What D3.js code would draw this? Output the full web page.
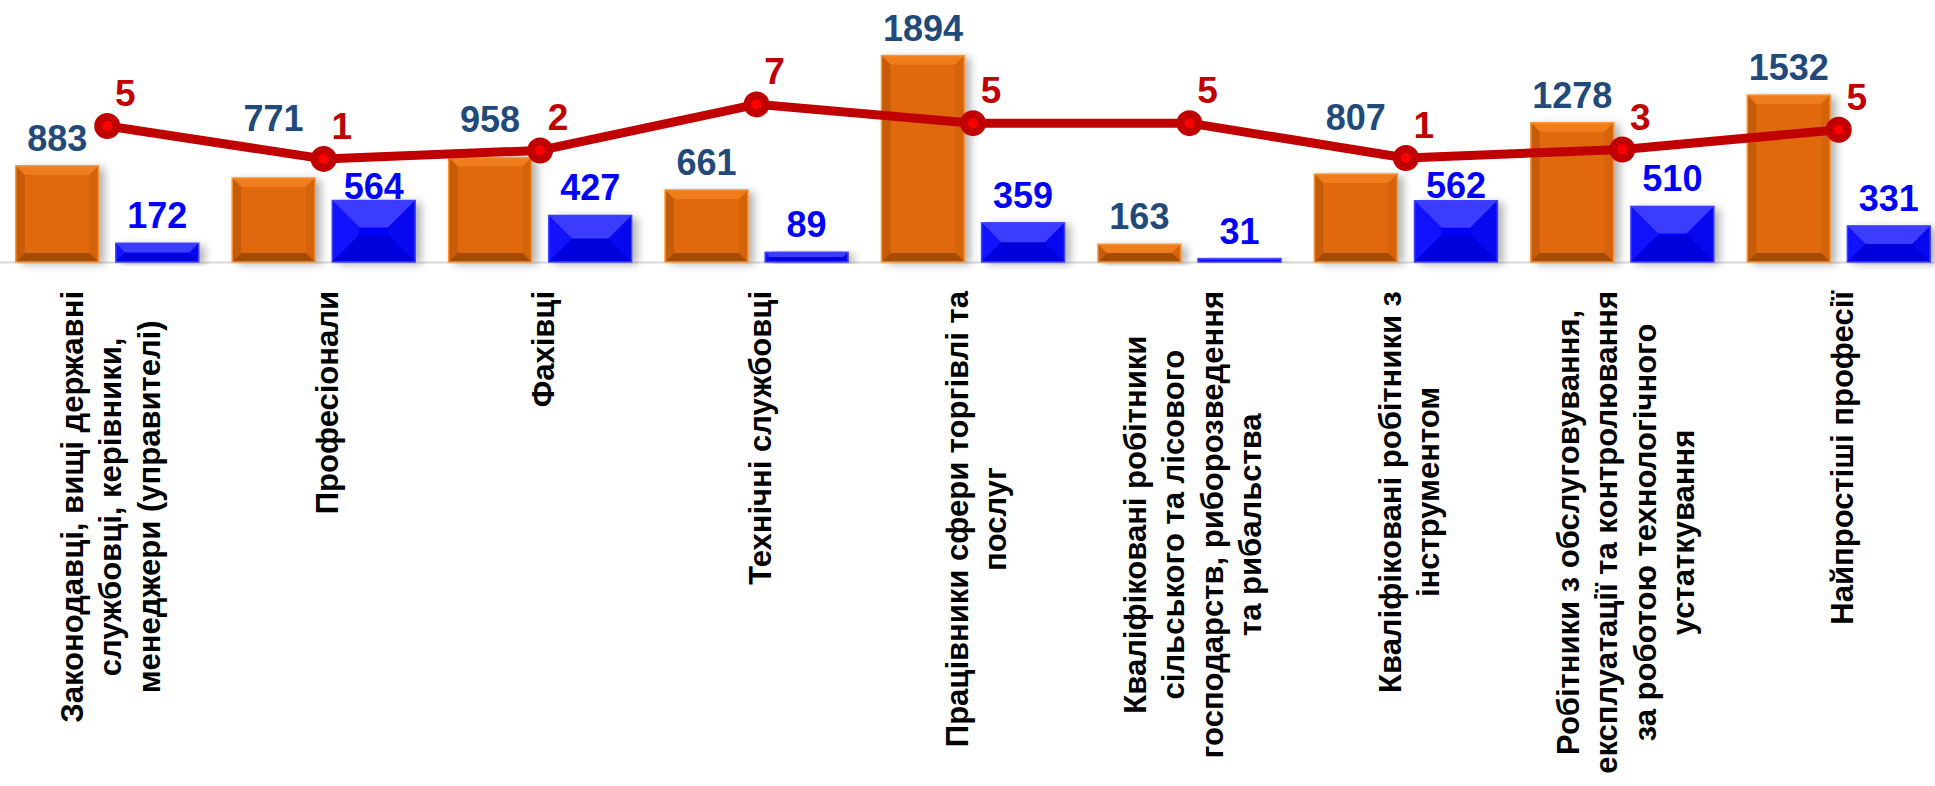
<!DOCTYPE html>
<html>
<head>
<meta charset="utf-8">
<script src="https://cdn.jsdelivr.net/npm/d3@7"></script>
<style>
  body { margin: 0; background: #fff; overflow: hidden; }
  svg { display: block; font-family: "Liberation Sans", Arial, sans-serif; font-weight: bold; }
</style>
</head>
<body>
<div id="chart"></div>
<script>
// category labels, one entry per line of the wrapped label
const categories = [
  ["Законодавці, вищі державні", "службовці, керівники,", "менеджери (управителі)"],
  ["Професіонали"],
  ["Фахівці"],
  ["Технічні службовці"],
  ["Працівники сфери торгівлі та", "послуг"],
  ["Кваліфіковані робітники", "сільського та лісового", "господарств, риборозведення", "та рибальства"],
  ["Кваліфіковані робітники з", "інструментом"],
  ["Робітники з обслуговування,", "експлуатації та контролювання", "за роботою технологічного", "устаткування"],
  ["Найпростіші професії"],
];
const orangeValues = [883, 771, 958, 661, 1894, 163, 807, 1278, 1532];
const blueValues = [172, 564, 427, 89, 359, 31, 562, 510, 331];
const lineValues = [5.0, 1.5, 2.4, 7.3, 5.3, 5.3, 1.6, 2.5, 4.6];
const lineLabels = ["5", "1", "2", "7", "5", "5", "1", "3", "5"];

class ComboChart {
  constructor(_config) {
    this.config = {
      parentElement: _config.parentElement,
      containerWidth: 1935,
      containerHeight: 786,
      baseline: 262,
      labelTop: 291,
      lineStep: 38.5,
      labelGap: 15,
    };
    this.initVis();
  }

  initVis() {
    let vis = this;

    vis.svg = d3
      .select(vis.config.parentElement)
      .append("svg")
      .attr("width", vis.config.containerWidth)
      .attr("height", vis.config.containerHeight);

    const defs = vis.svg.append("defs");
    defs
      .append("filter")
      .attr("id", "shadow")
      .attr("x", "-20%")
      .attr("y", "-20%")
      .attr("width", "150%")
      .attr("height", "140%")
      .append("feDropShadow")
      .attr("dx", 6)
      .attr("dy", 2)
      .attr("stdDeviation", 4)
      .attr("flood-color", "#000")
      .attr("flood-opacity", 0.3);

    vis.xScale = d3
      .scaleBand()
      .domain(d3.range(categories.length))
      .range([-1, 1947]);
    vis.xInner = d3
      .scaleBand()
      .domain(["orange", "blue"])
      .range([0, vis.xScale.bandwidth()])
      .paddingInner(0.172)
      .paddingOuter(0.167);
    vis.yScale = d3.scaleLinear().domain([0, 2000]).range([vis.config.baseline, 44]);
    vis.yLine = d3.scaleLinear().domain([0, 10]).range([173, 79]);

    vis.chart = vis.svg.append("g");
    vis.updateVis();
  }

  updateVis() {
    let vis = this;
    vis.data = categories.map((c, i) => ({
      i,
      lines: c,
      orange: orangeValues[i],
      blue: blueValues[i],
      line: lineValues[i],
      lineLabel: lineLabels[i],
    }));
    vis.renderVis();
  }

  // draws one bar with a simple bevel, like the office chart style
  drawBar(g, x, y, w, h, c, depth) {
    const b = Math.min(depth, h / 2, w / 2);
    const bar = g.append("g");
    bar
      .append("rect")
      .attr("x", x)
      .attr("y", y)
      .attr("width", w)
      .attr("height", h)
      .attr("fill", c.face)
      .attr("filter", "url(#shadow)");
    const quad = (pts, fill) =>
      bar.append("polygon").attr("points", pts.map((p) => p.join(",")).join(" ")).attr("fill", fill);
    quad([[x, y], [x + w, y], [x + w - b, y + b], [x + b, y + b]], c.top);
    quad([[x, y], [x + b, y + b], [x + b, y + h - b], [x, y + h]], c.left);
    quad([[x + w, y], [x + w, y + h], [x + w - b, y + h - b], [x + w - b, y + b]], c.right);
    quad([[x, y + h], [x + b, y + h - b], [x + w - b, y + h - b], [x + w, y + h]], c.bottom);
    bar
      .append("rect")
      .attr("x", x)
      .attr("y", y)
      .attr("width", w)
      .attr("height", h)
      .attr("fill", "none")
      .attr("stroke", c.edge)
      .attr("stroke-width", 1.5);
  }

  renderVis() {
    let vis = this;
    const base = vis.config.baseline;
    const gap = vis.config.labelGap;
    const cx = (i) => vis.xScale(i) + vis.xScale.bandwidth() / 2;
    const bw = vis.xInner.bandwidth();

    // y of the line series at any x, so labels can keep clear of it
    const pts = vis.data.map((d) => [cx(d.i), vis.yLine(d.line)]);
    const lineYAt = (x) => {
      if (x <= pts[0][0]) return pts[0][1];
      for (let k = 1; k < pts.length; k++) {
        if (x <= pts[k][0]) {
          const t = (x - pts[k - 1][0]) / (pts[k][0] - pts[k - 1][0]);
          return pts[k - 1][1] + t * (pts[k][1] - pts[k - 1][1]);
        }
      }
      return pts[pts.length - 1][1];
    };

    const orangeStyle = {
      face: "#E0690B",
      top: "#EF7D1C",
      left: "#C65C09",
      right: "#D46309",
      bottom: "#A24C07",
      edge: "#F7963A",
    };
    const blueStyle = {
      face: "#0000FA",
      top: "#3C3CFF",
      left: "#1212FF",
      right: "#0808F0",
      bottom: "#0000DC",
      edge: "#4040FF",
    };

    // baseline
    vis.chart
      .append("line")
      .attr("x1", 0)
      .attr("x2", vis.config.containerWidth)
      .attr("y1", base + 0.5)
      .attr("y2", base + 0.5)
      .attr("stroke", "#D9D9D9")
      .attr("stroke-width", 2);

    const barsG = vis.chart.append("g");
    vis.data.forEach((d) => {
      const xo = vis.xScale(d.i) + vis.xInner("orange");
      const yo = vis.yScale(d.orange);
      vis.drawBar(barsG, xo, yo, bw, base - yo, orangeStyle, 9);
      const xb = vis.xScale(d.i) + vis.xInner("blue");
      const yb = vis.yScale(d.blue);
      vis.drawBar(barsG, xb, yb, bw, base - yb, blueStyle, 27);
    });

    // value labels: orange ones hop above the line, blue ones slip under it
    vis.chart
      .selectAll(".orange-label")
      .data(vis.data)
      .join("text")
      .attr("class", "orange-label")
      .attr("x", (d) => vis.xScale(d.i) + vis.xInner("orange") + bw / 2)
      .attr("y", (d) => {
        const x = vis.xScale(d.i) + vis.xInner("orange") + bw / 2;
        const ly = lineYAt(x);
        let y = vis.yScale(d.orange) - gap;
        if (x > pts[0][0] && y > ly - 18 && y - 26 < ly + 16) y = ly - 20;
        return y;
      })
      .attr("text-anchor", "middle")
      .style("font-size", "36px")
      .attr("fill", "#21497A")
      .text((d) => d.orange);

    vis.chart
      .selectAll(".blue-label")
      .data(vis.data)
      .join("text")
      .attr("class", "blue-label")
      .attr("x", (d) => vis.xScale(d.i) + vis.xInner("blue") + bw / 2)
      .attr("y", (d) => {
        const x = vis.xScale(d.i) + vis.xInner("blue") + bw / 2;
        const ly = lineYAt(x);
        const top = vis.yScale(d.blue);
        let y = top - gap;
        if (x < pts[pts.length - 1][0] && y - 26 < ly + 14) y = Math.min(ly + 42, top - 2);
        return y;
      })
      .attr("text-anchor", "middle")
      .style("font-size", "36px")
      .attr("fill", "#0000FF")
      .text((d) => d.blue);

    // line series
    const line = d3
      .line()
      .x((d) => cx(d.i))
      .y((d) => vis.yLine(d.line));
    vis.chart
      .append("path")
      .datum(vis.data)
      .attr("d", line)
      .attr("fill", "none")
      .attr("stroke", "#C00000")
      .attr("stroke-width", 9)
      .attr("stroke-linejoin", "round");
    vis.chart
      .selectAll(".marker")
      .data(vis.data)
      .join("circle")
      .attr("class", "marker")
      .attr("cx", (d) => cx(d.i))
      .attr("cy", (d) => vis.yLine(d.line))
      .attr("r", 9)
      .attr("fill", "#FF0000")
      .attr("stroke", "#C00000")
      .attr("stroke-width", 8);
    vis.chart
      .selectAll(".line-label")
      .data(vis.data)
      .join("text")
      .attr("class", "line-label")
      .attr("x", (d) => cx(d.i) + 18)
      .attr("y", (d) => vis.yLine(d.line) - 20)
      .attr("text-anchor", "middle")
      .style("font-size", "37px")
      .attr("fill", "#C00000")
      .text((d) => d.lineLabel);

    // rotated category labels
    const step = vis.config.lineStep;
    const catG = vis.chart
      .selectAll(".cat")
      .data(vis.data)
      .join("g")
      .attr("class", "cat")
      .attr("transform", (d) => `translate(${cx(d.i) + 14 - ((d.lines.length - 1) * step) / 2},0)`);
    catG.each(function (d) {
      const g = d3.select(this);
      const texts = g
        .selectAll("text")
        .data(d.lines)
        .join("text")
        .attr("text-anchor", "middle")
        .style("font-size", "31px")
        .attr("fill", "#000")
        .text((t) => t);
      const maxLen = d3.max(texts.nodes(), (n) => n.getComputedTextLength());
      const c = vis.config.labelTop + maxLen / 2;
      texts.attr("transform", (t, j) => `translate(${j * step},${c}) rotate(-90)`);
    });
  }
}

new ComboChart({ parentElement: "#chart" });
</script>
</body>
</html>
